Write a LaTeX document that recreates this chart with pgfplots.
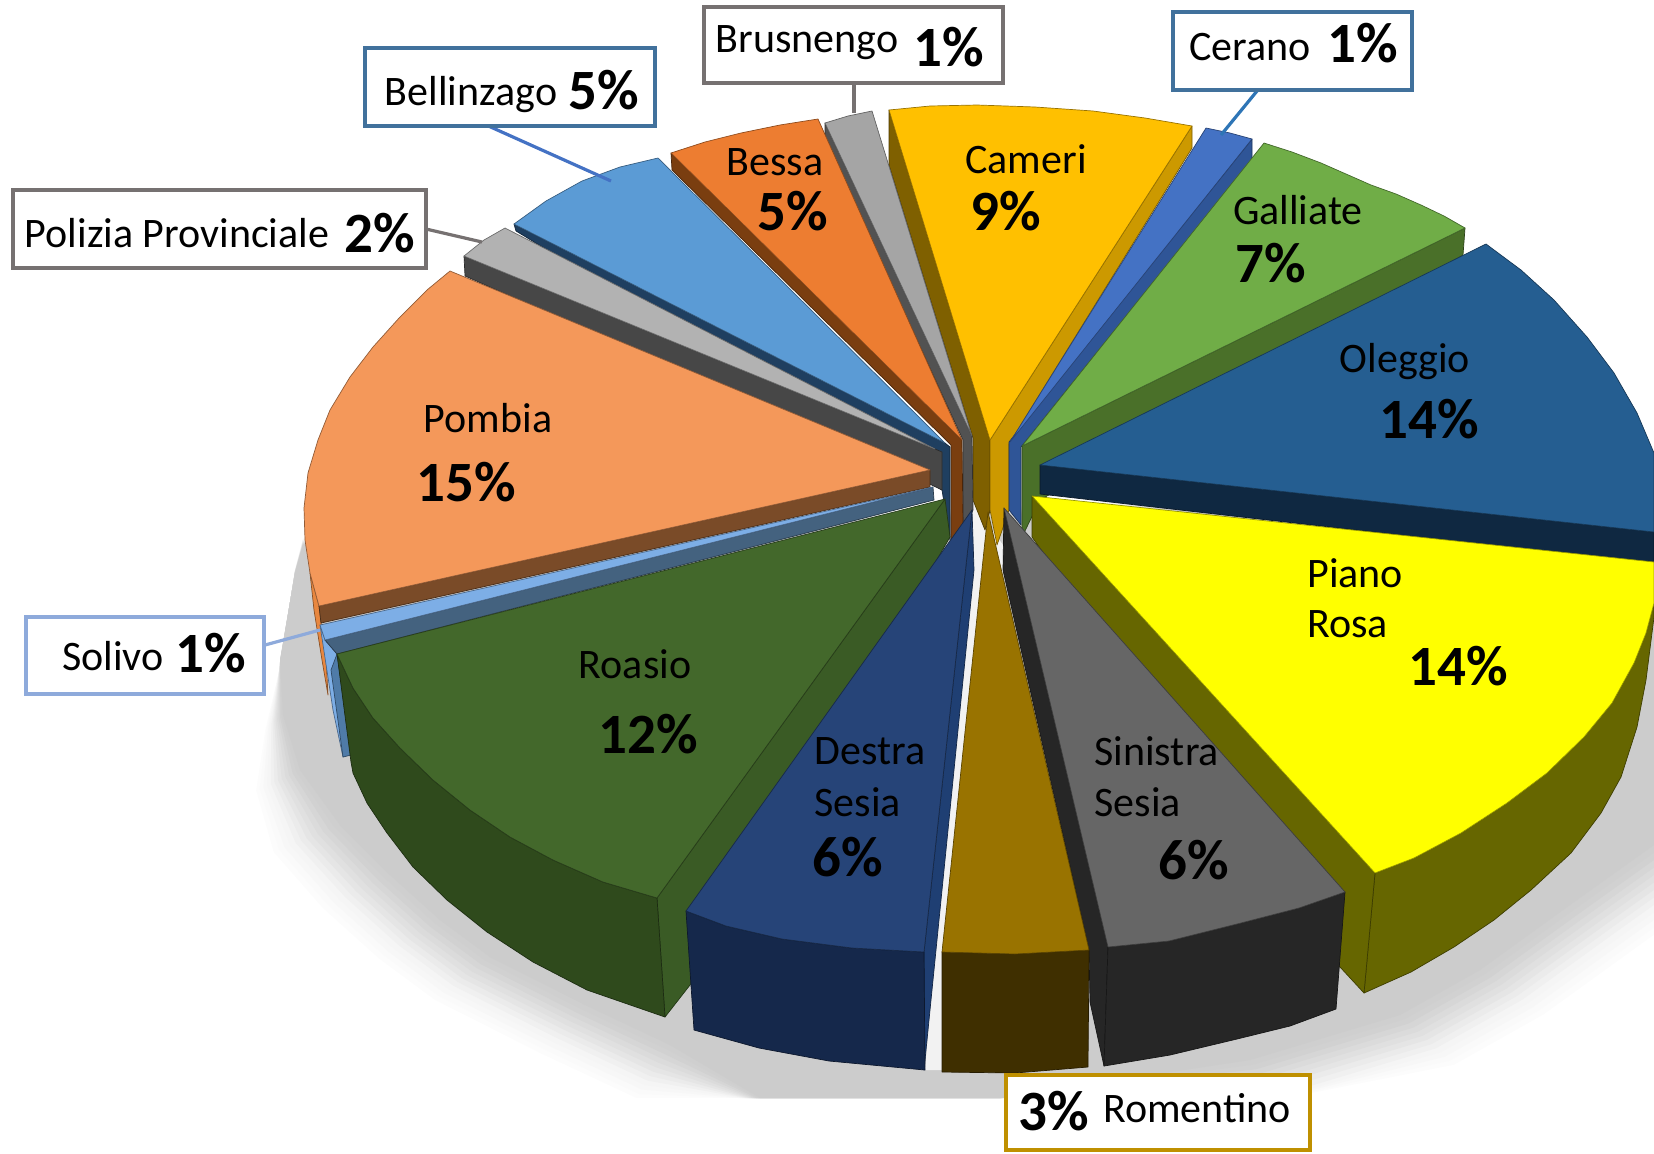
\documentclass[border=0pt]{standalone}
\usepackage{pgfplots}
\usepackage{pgfplotstable}
\usepackage{fontspec}
\setmainfont{Carlito}
\pgfplotsset{compat=1.18}
\definecolor{cOle}{HTML}{255E91}\definecolor{cOleS}{HTML}{0F2841}
\definecolor{cGal}{HTML}{70AD47}\definecolor{cGalS}{HTML}{4A7029}
\definecolor{cCer}{HTML}{4472C4}\definecolor{cCerS}{HTML}{2F5597}
\definecolor{cCam}{HTML}{FFC000}\definecolor{cCamL}{HTML}{7F6000}\definecolor{cCamR}{HTML}{CC9900}
\definecolor{cBru}{HTML}{A5A5A5}\definecolor{cBruS}{HTML}{525252}
\definecolor{cBes}{HTML}{ED7D31}\definecolor{cBesS}{HTML}{7A3E10}
\definecolor{cBel}{HTML}{5B9BD5}\definecolor{cBelS}{HTML}{1F3F60}
\definecolor{cPol}{HTML}{B2B2B2}\definecolor{cPolS}{HTML}{474747}
\definecolor{cPom}{HTML}{F4985A}\definecolor{cPomS}{HTML}{7A4B28}\definecolor{cPomO}{HTML}{E8873F}
\definecolor{cSol}{HTML}{7DAEE6}\definecolor{cSolS}{HTML}{44627F}\definecolor{cSolO}{HTML}{7DAEE6}\definecolor{cSolT}{HTML}{4F7BA8}
\definecolor{cRoa}{HTML}{43682B}\definecolor{cRoaS}{HTML}{2F4A1C}\definecolor{cRoaC}{HTML}{3A5B25}
\definecolor{cDes}{HTML}{264478}\definecolor{cDesS}{HTML}{15284B}\definecolor{cDesC}{HTML}{1F3F73}
\definecolor{cRom}{HTML}{997300}\definecolor{cRomS}{HTML}{3F2F00}
\definecolor{cSin}{HTML}{666666}\definecolor{cSinS}{HTML}{262626}
\definecolor{cPia}{HTML}{FFFF00}\definecolor{cPiaS}{HTML}{666600}
\definecolor{bGrey}{HTML}{767171}\definecolor{bBlue}{HTML}{41719C}\definecolor{bSol}{HTML}{8EAADB}\definecolor{bGold}{HTML}{BF9000}
\definecolor{lBel}{HTML}{4472C4}\definecolor{lCer}{HTML}{2E75B6}
\pgfplotstableread{
x y
303 545
295 573
280 660
283 715
300 770
340 825
390 875
440 920
490 957
585 1005
670 1045
760 1098
1000 1098
1250 1060
1400 1015
1480 970
1570 905
1654 845
1720 780
1720 600
1400 500
}\shadowtab
\newcommand{\shadowlayer}[2]{\addplot[fill=black!#2,draw=none] table[x expr={950+(\thisrow{x}-950)*(1+#1*min(1,max(0,(\thisrow{y}-680)/160)))}, y expr={min(1098,600+(\thisrow{y}-600)*(1+#1))}] {\shadowtab} -- cycle;}
\newcommand{\fc}[2]{\addplot[fill=#1,draw=#1!60!black,line width=.35pt,line join=round] coordinates {#2} -- cycle;}
\newcommand{\tl}[3]{\node[font=\fontsize{21}{22}\selectfont,anchor=center] at (axis cs:#1,#2) {#3};}
\newcommand{\tll}[3]{\node[font=\fontsize{21}{22}\selectfont,anchor=west,inner sep=0pt] at (axis cs:#1,#2) {#3};}
\newcommand{\pc}[3]{\node[font=\fontsize{28.5}{30}\selectfont\bfseries,anchor=center] at (axis cs:#1,#2) {#3\%};}
\newcommand{\bx}[5]{\draw[#1,line width=2.2pt,fill=white] (axis cs:#2,#3) rectangle (axis cs:#4,#5);}
\newcommand{\ld}[5]{\addplot[#1,line width=1.6pt] coordinates {(#2,#3) (#4,#5)};}
\begin{document}
\begin{tikzpicture}
\begin{axis}[scale only axis,width=827pt,height=576.5pt,xmin=0,xmax=1654,ymin=0,ymax=1153,y dir=reverse,hide axis,clip mode=individual,enlargelimits=false]
\path (axis cs:0,0) rectangle (axis cs:1654,1153);
% shadow
\shadowlayer{.12}{1}\shadowlayer{.11}{2}\shadowlayer{.10}{3}\shadowlayer{.09}{4}\shadowlayer{.08}{6}\shadowlayer{.07}{8}\shadowlayer{.06}{10}\shadowlayer{.05}{12}\shadowlayer{.04}{14}\shadowlayer{.03}{16}\shadowlayer{.02}{18}\shadowlayer{.01}{19}\shadowlayer{0}{20}
\addplot[fill=black!5,draw=none] coordinates {(973,503) (1003,545) (1003,600) (982,600) (945,1070) (925,1070)} -- cycle;
% Cameri
\fc{cCamL}{(889,110) (990,440) (990,510) (985,530) (973,500) (973,438) (889,165)}
\fc{cCamR}{(990,440) (1192,126) (1192,148) (1009,444) (1009,510) (997,545) (990,510)}
\fc{cCam}{(889,110) (930,106) (977,105) (1035,107) (1093,111) (1145,118) (1192,126) (990,440)}
% Cerano
\fc{cCerS}{(1252,139) (1252,159) (1021,447) (1021,525) (1009,510) (1009,442)}
\fc{cCer}{(1206,128) (1230,133) (1252,139) (1010,442)}
% Galliate
\fc{cGalS}{(1022,446) (1465,228) (1463,255) (1040,500) (1022,537)}
\fc{cGal}{(1264,143) (1292,152) (1321,163) (1346,174) (1371,185) (1396,194) (1421,205) (1444,216) (1465,228) (1022,446)}
% Brusnengo
\fc{cBruS}{(825,123) (972,436) (973,510) (963,530) (963,440) (825,140)}
\fc{cBru}{(825,123) (848,116) (872,111) (972,436)}
% Bessa
\fc{cBesS}{(671,153) (962,440) (963,527) (951,540) (951,445) (672,170)}
\fc{cBes}{(671,153) (705,142) (741,133) (780,125) (818,119) (962,440)}
% Bellinzago
\fc{cBelS}{(514,224) (945,443) (950,447) (950,540) (942,490) (516,231)}
\fc{cBel}{(514,224) (546,201) (582,181) (620,167) (658,158) (945,443)}
% Polizia
\fc{cPolS}{(464,256) (935,449) (942,452) (942,490) (880,460) (465,276)}
\fc{cPol}{(464,256) (484,240) (505,228) (935,449)}
% Oleggio
\fc{cOleS}{(1040,465) (1654,532) (1654,564) (1040,494)}
\fc{cOle}{(1486,244) (1521,270) (1554,300) (1587,337) (1614,373) (1637,413) (1654,453) (1654,532) (1040,465)}
% Pombia
\fc{cPomO}{(310,573) (319,606) (321,623) (325,640) (328,695) (322,660) (314,610)}
\fc{cPomS}{(319,606) (930,470) (930,487) (321,623)}
\fc{cPom}{(450,271) (427,290) (400,317) (373,347) (350,377) (330,410) (318,440) (308,473) (304,508) (305,540) (310,573) (319,606) (930,470)}
% Solivo
\fc{cSolO}{(320,625) (325,640) (337,654) (343,757) (333,710)}
\fc{cSolT}{(337,654) (351,755) (343,757) (331,670)}
\fc{cSolS}{(325,640) (933,487) (934,500) (337,654)}
\fc{cSol}{(320,625) (933,487) (325,640)}
% Piano Rosa
\fc{cPiaS}{(1375,873) (1414,858) (1461,833) (1507,803) (1547,773) (1584,737) (1612,703) (1634,663) (1646,633) (1654,603) (1654,617) (1646,680) (1637,727) (1621,777) (1601,813) (1571,853) (1531,890) (1494,920) (1454,947) (1411,972) (1364,993)}
\fc{cPiaS}{(1032,496) (1375,873) (1364,993) (1340,967) (1032,537)}
\fc{cPia}{(1032,496) (1654,562) (1654,603) (1646,633) (1634,663) (1612,703) (1584,737) (1547,773) (1507,803) (1461,833) (1414,858) (1375,873)}
% Sinistra
\fc{cSinS}{(1004,508) (1108,947) (1104,1066) (1090,1002) (1089,950) (1003,570)}
\fc{cSinS}{(1108,947) (1169,941) (1237,924) (1299,908) (1345,892) (1336,1009) (1290,1026) (1237,1039) (1170,1055) (1104,1066)}
\fc{cSin}{(1004,508) (1345,892) (1299,908) (1237,924) (1169,941) (1108,947)}
% Romentino
\fc{cRomS}{(942,952) (1015,954) (1089,950) (1088,1067) (1015,1073) (942,1072)}
\fc{cRom}{(988,512) (1089,950) (1015,954) (942,952)}
% Roasio
\fc{cRoaC}{(945,499) (950,537) (690,985) (665,1017) (657,898)}
\fc{cRoaS}{(337,654) (353,688) (373,718) (400,748) (433,780) (470,810) (510,837) (553,860) (603,882) (657,898) (665,1017) (587,990) (533,962) (487,932) (447,900) (413,867) (387,833) (367,803) (353,773) (351,762)}
\fc{cRoa}{(945,499) (657,898) (603,882) (553,860) (510,837) (470,810) (433,780) (400,748) (373,718) (353,688) (337,654)}
% Destra
\fc{cDesC}{(972,510) (974,570) (924,1070) (924,952)}
\fc{cDesS}{(686,911) (726,926) (782,939) (852,948) (924,952) (925,1070) (829,1061) (759,1048) (694,1030)}
\fc{cDes}{(972,510) (924,952) (852,948) (782,939) (726,926) (686,911)}
% leaders
\ld{bGrey}{426}{229}{482}{242}
\ld{lBel}{484}{124}{611}{181}
\ld{bGrey}{854}{85}{854}{113}
\ld{lCer}{1257}{91}{1221}{135}
\ld{bSol}{265}{645}{320}{630}
% boxes
\bx{bGrey}{13}{190}{426}{268}
\bx{bBlue}{365}{48}{655}{126}
\bx{bGrey}{704}{7}{1003}{83}
\bx{bBlue}{1173}{12}{1412}{90}
\bx{bSol}{26}{617}{264}{694}
\bx{bGold}{1006}{1075}{1310}{1150}
% labels in slices
\tl{488}{418}{Pombia}\pc{466}{482}{15}
\tl{635}{664}{Roasio}\pc{648}{734}{12}
\tll{814}{751}{Destra}\tll{814}{802}{Sesia}\pc{848}{857}{6}
\tll{1094}{751}{Sinistra}\tll{1094}{802}{Sesia}\pc{1194}{860}{6}
\tll{1307}{573}{Piano}\tll{1307}{624}{Rosa}\pc{1458}{666}{14}
\tl{1405}{362}{Oleggio}\pc{1429}{419}{14}
\tl{1298}{210}{Galliate}\pc{1271}{263}{7}
\tl{1026}{159}{Cameri}\pc{1006}{211}{9}
\tl{775}{162}{Bessa}\pc{793}{211}{5}
% labels in boxes
\tl{177}{233}{Polizia Provinciale}\pc{380}{233}{2}
\tl{471}{95}{Bellinzago}\pc{604}{90}{5}
\tl{807}{43}{Brusnengo}\pc{949}{47}{1}
\tl{1250}{47}{Cerano}\pc{1363}{43}{1}
\tl{113}{656}{Solivo}\pc{211}{653}{1}
\pc{1054}{1111}{3}\tl{1197}{1108}{Romentino}
\end{axis}
\end{tikzpicture}
\end{document}
